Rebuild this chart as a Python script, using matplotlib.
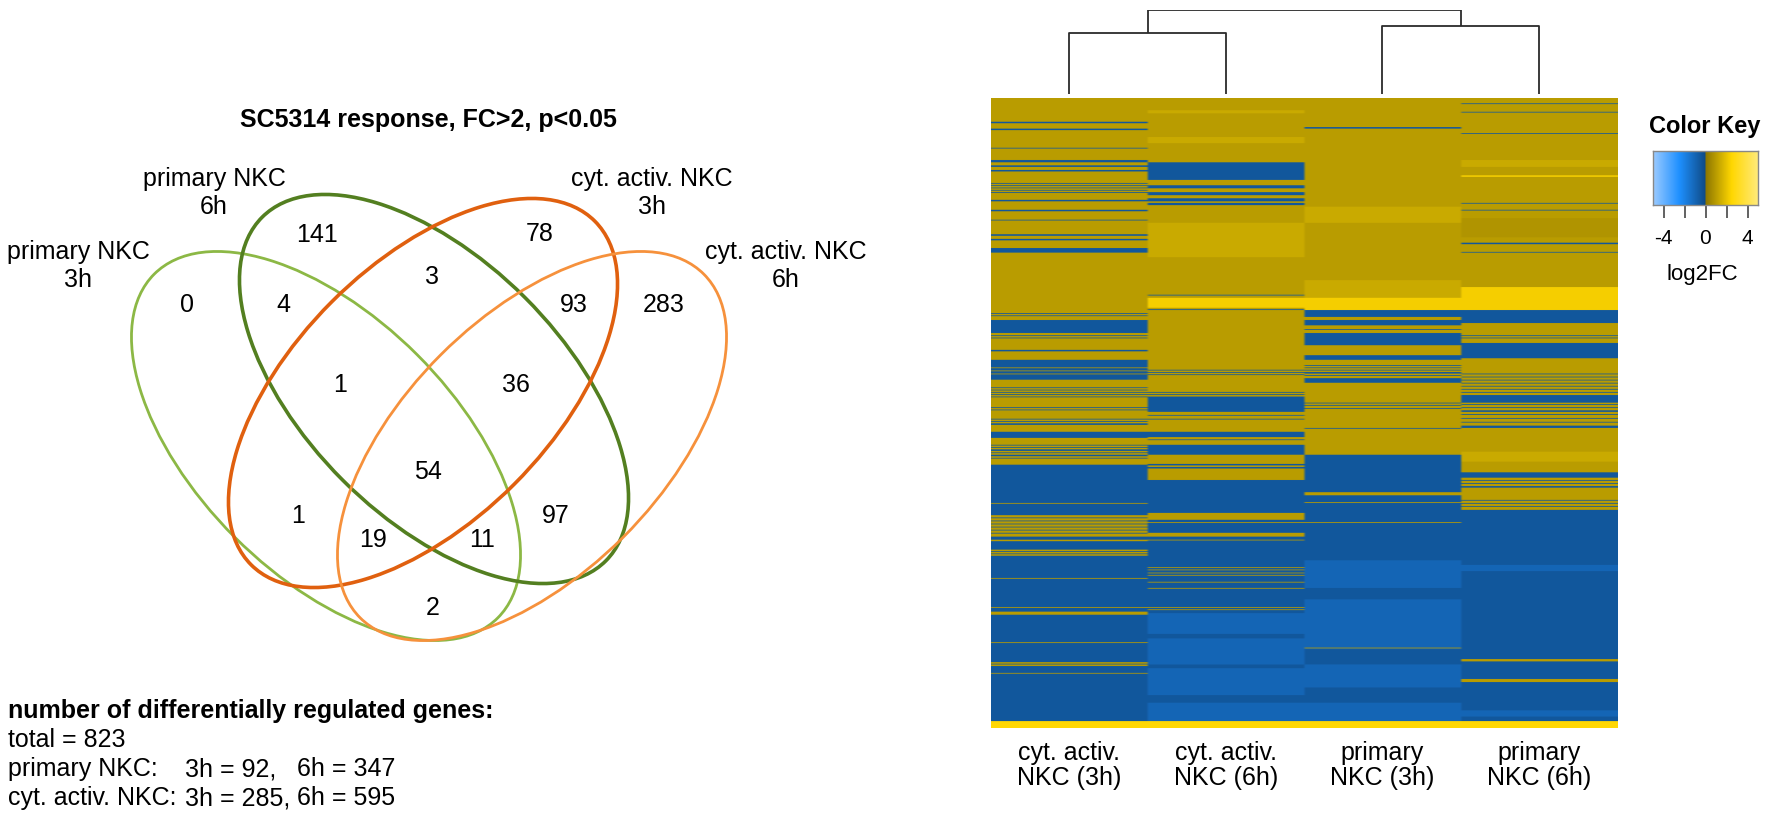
import numpy as np
import matplotlib
matplotlib.use("Agg")
import matplotlib.pyplot as plt
from matplotlib.patches import Ellipse
from matplotlib.colors import LinearSegmentedColormap

plt.rcParams['font.family'] = ['Liberation Sans', 'DejaVu Sans']

# ---------------- data ----------------
venn_title = "SC5314 response, FC>2, p<0.05"
set_names = ["primary NKC\n3h", "primary NKC\n6h", "cyt. activ. NKC\n3h", "cyt. activ. NKC\n6h"]
region_counts = [0, 141, 78, 283, 4, 3, 93, 1, 36, 54, 1, 19, 11, 97, 2]

summary_total = 823
primary_counts = [92, 347]
cytact_counts = [285, 595]

heat_columns = ["cyt. activ.\nNKC (3h)", "cyt. activ.\nNKC (6h)",
                "primary\nNKC (3h)", "primary\nNKC (6h)"]
n_genes = 823
# column clustering: left pair, right pair, root (relative height)
merge_heights = [0.726, 0.81, 1.0]

# log2FC levels
G, LG, DG, Y, BAR = 1.0, 1.35, 0.8, 2.3, 2.6
B, LB = -0.5, -1.0

# (first gene row, log2FC) runs, top to bottom
cyt3h = [(0, G), (31, B), (33, G), (40, B), (42, G), (65, B), (66, G), (81, B), (84, G), (88, B), (90, G),
         (94, B), (96, G), (111, B), (112, G), (114, B), (115, G), (117, B), (118, G), (120, B), (121, G),
         (123, B), (124, G), (133, B), (135, G), (146, B), (148, G), (159, B), (160, G), (178, B), (180, G),
         (184, B), (186, G), (196, B), (202, G), (281, B), (282, G), (284, B), (285, G), (290, B), (307, G),
         (310, B), (311, G), (313, B), (314, G), (329, B), (331, G), (342, B), (352, G), (353, B), (356, G),
         (357, B), (360, G), (361, B), (368, G), (378, B), (379, G), (381, B), (382, G), (384, B), (385, G),
         (387, B), (388, G), (390, B), (391, G), (404, B), (405, G), (407, B), (408, G), (419, B), (420, G),
         (422, B), (423, G), (425, B), (427, G), (436, B), (444, G), (453, B), (454, G), (456, B), (457, G),
         (459, B), (461, G), (463, B), (464, G), (466, B), (468, G), (470, B), (471, G), (479, B), (529, G),
         (530, B), (545, G), (548, B), (549, G), (552, B), (553, G), (556, B), (557, G), (560, B), (561, G),
         (564, B), (565, G), (568, B), (569, G), (573, B), (577, G), (579, B), (590, G), (592, B), (593, G),
         (595, B), (596, G), (598, B), (627, G), (628, B), (665, G), (666, B), (671, G), (675, B), (711, G),
         (712, B), (737, G), (739, B), (740, G), (742, B), (751, G), (752, B), (814, BAR)]
cyt6h = [(0, G), (16, LG), (20, G), (51, LG), (59, G), (84, B), (107, G), (114, B), (118, G), (123, B),
         (127, G), (131, B), (135, G), (137, B), (140, G), (163, LG), (208, G), (257, B), (258, G), (261, Y),
         (274, G), (276, B), (277, G), (355, B), (356, G), (358, B), (359, G), (361, B), (362, G), (384, B),
         (385, G), (387, B), (388, G), (390, B), (410, G), (414, B), (415, G), (419, B), (420, G), (436, B),
         (443, G), (446, B), (447, G), (453, B), (466, G), (478, B), (480, G), (482, B), (484, G), (499, B),
         (542, G), (551, B), (554, G), (555, B), (568, G), (573, B), (577, G), (578, B), (613, G), (614, B),
         (616, G), (617, B), (620, G), (621, B), (623, G), (624, B), (632, G), (633, B), (640, G), (641, B),
         (665, G), (666, B), (668, G), (669, B), (673, LB), (700, B), (706, LB), (740, B), (745, LB),
         (780, B), (790, LB), (814, BAR)]
prim3h = [(0, G), (38, B), (40, G), (142, LG), (163, G), (238, LG), (261, Y), (277, B), (286, G), (290, B),
          (297, G), (302, B), (303, G), (307, B), (323, G), (336, B), (342, G), (349, B), (350, G), (352, B),
          (353, G), (355, B), (356, G), (358, B), (360, G), (362, B), (363, G), (366, B), (372, G), (398, B),
          (399, G), (401, B), (402, G), (405, B), (406, G), (431, B), (432, G), (466, B), (515, G), (519, B),
          (528, G), (529, B), (554, G), (555, B), (604, LB), (640, B), (655, LB), (718, G), (719, LB),
          (720, B), (740, LB), (770, B), (790, LB), (814, BAR)]
prim6h = [(0, G), (7, B), (8, G), (18, B), (19, G), (46, B), (47, G), (81, LG), (90, G), (101, Y), (103, G),
          (137, B), (138, G), (146, B), (147, G), (157, DG), (182, G), (189, B), (191, G), (201, B), (202, G),
          (247, Y), (277, B), (294, G), (310, B), (311, G), (313, B), (314, G), (320, B), (340, G), (360, B),
          (361, G), (364, B), (365, G), (368, B), (369, G), (372, B), (373, G), (376, B), (377, G), (380, B),
          (381, G), (384, B), (385, G), (388, B), (398, G), (400, B), (401, G), (404, B), (405, G), (408, B),
          (410, G), (413, B), (414, G), (418, B), (419, G), (423, B), (424, G), (428, B), (431, G), (462, LG),
          (475, G), (489, B), (496, G), (499, B), (500, G), (503, B), (504, G), (507, B), (509, G), (525, B),
          (526, G), (529, B), (530, G), (533, B), (534, G), (538, B), (610, LB), (618, B), (733, G), (736, B),
          (759, G), (763, B), (800, LB), (808, B), (814, BAR)]


def build_column(runs, n):
    col = np.empty(n)
    ends = [s for s, _ in runs[1:]] + [n]
    for (start, val), end in zip(runs, ends):
        col[start:end] = val
    return col


heat = np.column_stack([build_column(c, n_genes) for c in (cyt3h, cyt6h, prim3h, prim6h)])

cmap = LinearSegmentedColormap.from_list("key", [
    (0.0, "#9ccbff"), (0.25, "#1e90ff"), (0.4999, "#0f4a85"),
    (0.5, "#8b7500"), (0.75, "#ffd700"), (1.0, "#ffea7a")])

W, H = 1772, 822
fig = plt.figure(figsize=(W / 100, H / 100), dpi=100)
bg = fig.add_axes([0, 0, 1, 1])
bg.set_xlim(0, W)
bg.set_ylim(H, 0)
bg.axis("off")

# ---------------- Venn ----------------
ell_centers = [(326, 446), (434, 389), (423, 393), (532, 446)]
ell_angles = [45, 45, -45, -45]
ell_colors = ["#8cb845", "#537f20", "#e0600f", "#f6913c"]
ell_lw = [2.0, 2.6, 2.6, 2.0]
for c, ang, col, lw in zip(ell_centers, ell_angles, ell_colors, ell_lw):
    bg.add_patch(Ellipse(c, 486, 258, angle=ang, fill=False, edgecolor=col, lw=lw))

label_pos = [(78, 266), (214, 193), (652, 193), (786, 266)]
for (x, y), s in zip(label_pos, set_names):
    bg.text(x, y, s, ha="center", va="center", fontsize=18, linespacing=1.2)

region_pos = [(187, 305), (317, 235), (540, 234), (664, 305), (283, 305), (432, 277), (574, 305),
              (340, 385), (516, 385), (428, 472), (298, 516), (373, 540), (482, 540), (556, 516), (433, 608)]
for (x, y), n in zip(region_pos, region_counts):
    bg.text(x, y, str(n), ha="center", va="center", fontsize=18)

bg.text(428, 120, venn_title, ha="center", va="center", fontsize=18, fontweight="bold")

bg.text(8, 711, "number of differentially regulated genes:", va="center", fontsize=18, fontweight="bold")
bg.text(8, 740, f"total = {summary_total}", va="center", fontsize=18)
bg.text(8, 769, "primary NKC:", va="center", fontsize=18)
bg.text(185, 769, f"3h = {primary_counts[0]},", va="center", fontsize=18)
bg.text(297, 769, f"6h = {primary_counts[1]}", va="center", fontsize=18)
bg.text(8, 798, "cyt. activ. NKC:", va="center", fontsize=18)
bg.text(185, 798, f"3h = {cytact_counts[0]},", va="center", fontsize=18)
bg.text(297, 798, f"6h = {cytact_counts[1]}", va="center", fontsize=18)

# ---------------- heatmap ----------------
hx0, hy0, hw, hh = 991, 98, 626, 630
hm = fig.add_axes([hx0 / W, 1 - (hy0 + hh) / H, hw / W, hh / H])
hm.imshow(np.repeat(heat, 40, axis=1), aspect="auto", cmap=cmap, vmin=-5, vmax=5,
          extent=(0, 4, n_genes, 0), interpolation="antialiased", interpolation_stage="rgba")
hm.set_xticks(np.arange(4) + 0.5)
hm.set_xticklabels(heat_columns, fontsize=18, linespacing=1.1)
hm.tick_params(axis="x", length=0, pad=9)
hm.set_yticks([])
for sp in hm.spines.values():
    sp.set_visible(False)

# dendrogram over the columns
dn = fig.add_axes([hx0 / W, 1 - 94 / H, hw / W, 84 / H])
dn.set_xlim(0, 4)
dn.set_ylim(0, 1.0)
dn.axis("off")
hl, hr, ht = merge_heights
kw = dict(color="#2b2b2b", lw=1.3, solid_capstyle="butt")
dn.plot([0.5, 0.5, 1.5, 1.5], [0, hl, hl, 0], **kw)
dn.plot([2.5, 2.5, 3.5, 3.5], [0, hr, hr, 0], **kw)
dn.plot([1.0, 1.0, 3.0, 3.0], [hl, ht, ht, hr], **kw)

# ---------------- colour key ----------------
key = fig.add_axes([1653 / W, 1 - 205 / H, 105 / W, 54 / H])
key.imshow(np.linspace(-5, 5, 256)[None, :], aspect="auto", cmap=cmap, vmin=-5, vmax=5,
           extent=(-5, 5, 0, 1))
key.set_yticks([])
key.set_xticks([-4, -2, 0, 2, 4])
key.set_xticklabels(["-4", "", "0", "", "4"], fontsize=15)
key.tick_params(axis="x", length=9.5, width=1.3, color="#555555", pad=8)
for sp in key.spines.values():
    sp.set_edgecolor("#888888")
    sp.set_linewidth(1.0)
bg.text(1705, 127, "Color Key", ha="center", va="center", fontsize=17, fontweight="bold")
bg.text(1702, 274, "log2FC", ha="center", va="center", fontsize=16)

fig.savefig("out.png", dpi=100)
